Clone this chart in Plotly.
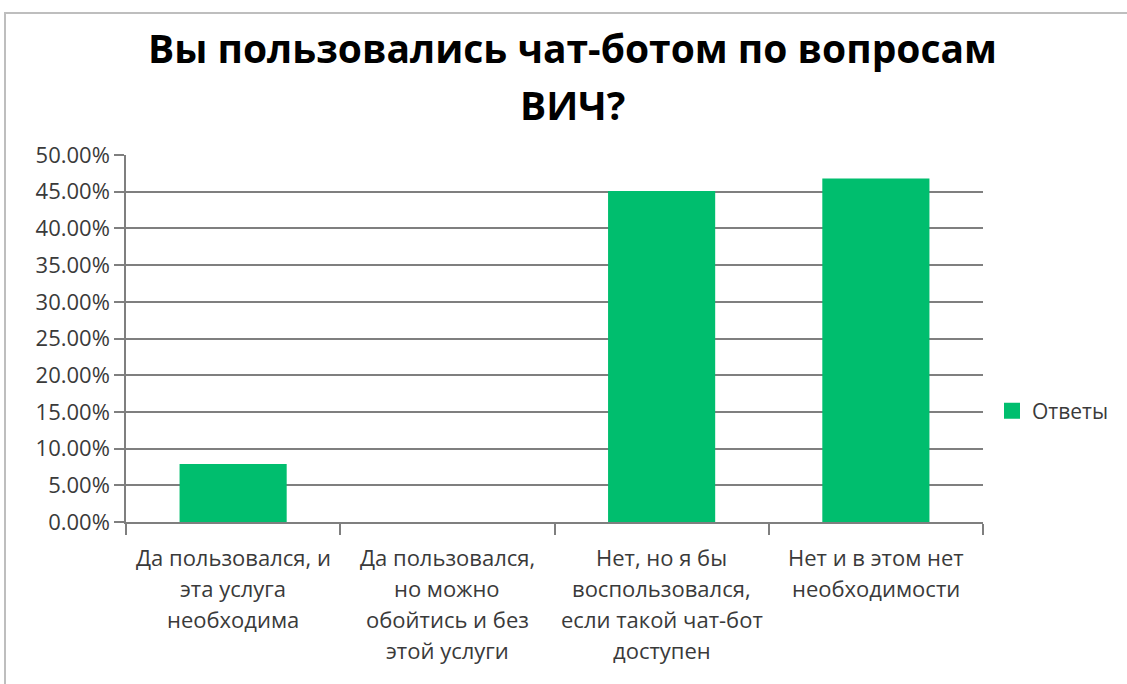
import plotly.graph_objects as go

# Survey answers and their shares
categories = [
    "Да пользовался, и эта услуга необходима",
    "Да пользовался, но можно обойтись и без этой услуги",
    "Нет, но я бы воспользовался, если такой чат-бот доступен",
    "Нет и в этом нет необходимости",
]
label_lines = [
    ["Да пользовался, и", "эта услуга", "необходима"],
    ["Да пользовался,", "но можно", "обойтись и без", "этой услуги"],
    ["Нет, но я бы", "воспользовался,", "если такой чат-бот", "доступен"],
    ["Нет и в этом нет", "необходимости"],
]
shares = [0.079, 0.0, 0.451, 0.468]
series_name = "Ответы"
title_lines = ["Вы пользовались чат-ботом по вопросам", "ВИЧ?"]

W, H = 1127, 684
ML, MR, MT, MB = 126, 144, 155, 162
PW, PH = W - ML - MR, H - MT - MB

def px_x(p):
    return (p - ML) / PW

def px_y(p):
    return (H - MB - p) / PH

FONT = "Open Sans"
GRID = "#7F7F7F"
TEXT = "#3A3A3A"
GREEN = "#00BE6E"

fig = go.Figure()
fig.add_trace(go.Bar(
    x=categories,
    y=shares,
    name=series_name,
    legendgroup="s",
    marker=dict(color=GREEN, line=dict(width=0)),
    showlegend=False,
))
# Legend entry with a larger square swatch
fig.add_trace(go.Scatter(
    x=[None], y=[None],
    mode="markers",
    name=series_name,
    legendgroup="s",
    marker=dict(symbol="square", size=16, color=GREEN),
    showlegend=True,
    hoverinfo="skip",
))

annotations = []
# Category labels, one line each so the line spacing can be set
for cat, lines in zip(categories, label_lines):
    for i, line in enumerate(lines):
        annotations.append(dict(
            x=cat, xref="x", y=0, yref="paper",
            text=line, showarrow=False,
            xanchor="center", yanchor="middle",
            yshift=-35 - 31 * i,
            font=dict(family=FONT, size=22, color=TEXT),
        ))

# Chart title
for i, line in enumerate(title_lines):
    annotations.append(dict(
        x=px_x(572), xref="paper", y=px_y(47 + 57 * i), yref="paper",
        text=f"<b>{line}</b>", showarrow=False,
        xanchor="center", yanchor="middle",
        font=dict(family=FONT, size=39, color="#000000"),
    ))

fig.update_layout(
    width=W, height=H,
    margin=dict(l=ML, r=MR, t=MT, b=MB, pad=0),
    paper_bgcolor="white",
    plot_bgcolor="white",
    bargap=0.5,
    annotations=annotations,
    showlegend=True,
    legend=dict(
        x=px_x(992), y=px_y(411), xanchor="left", yanchor="middle",
        font=dict(family=FONT, size=21, color=TEXT),
        bgcolor="rgba(0,0,0,0)",
        itemsizing="trace",
    ),
    shapes=[dict(
        type="rect", xref="paper", yref="paper",
        x0=px_x(5), x1=px_x(1140), y0=px_y(700), y1=px_y(13),
        line=dict(color="#BEBEBE", width=2), fillcolor="rgba(0,0,0,0)",
        layer="below",
    )],
    xaxis=dict(
        type="category",
        showticklabels=False,
        showgrid=False,
        showline=True, linecolor=GRID, linewidth=1.5,
        ticks="outside", tickson="boundaries", ticklen=11,
        tickcolor=GRID, tickwidth=1.5,
    ),
    yaxis=dict(
        range=[0, 0.5],
        dtick=0.05,
        tickformat=".2%",
        showgrid=True, gridcolor=GRID, gridwidth=1.5,
        zeroline=False,
        showline=True, linecolor=GRID, linewidth=1.5,
        ticks="outside", ticklen=10, tickcolor=GRID, tickwidth=1.5,
        tickfont=dict(family=FONT, size=22, color=TEXT),
    ),
)

fig.write_html("out.html")
